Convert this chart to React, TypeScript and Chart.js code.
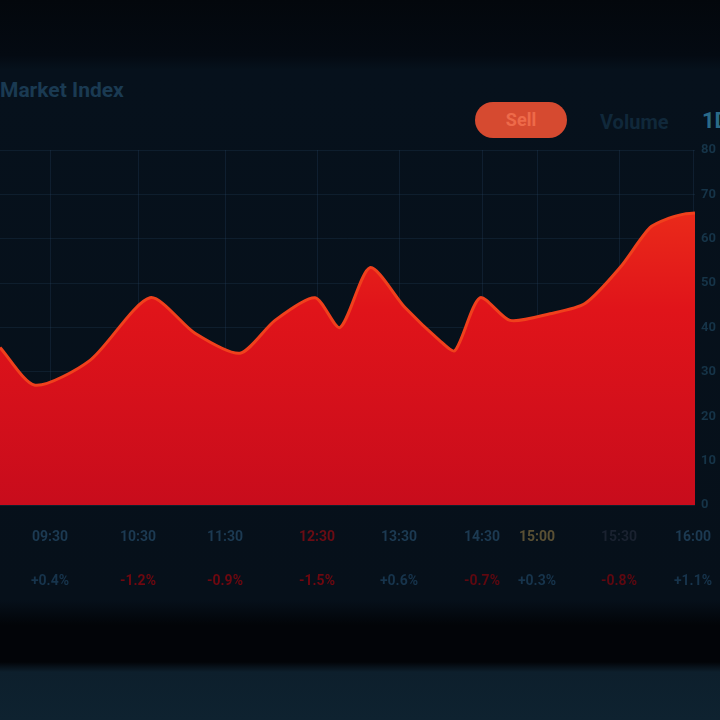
import React, { useEffect, useRef } from "react";
import { Chart, registerables } from "chart.js";

Chart.register(...registerables);

// Series: day index and index value
const days = [0, 7, 18, 30, 39, 48, 55, 63, 68, 74, 81, 88, 91, 96, 102, 110, 117, 124, 130, 134, 137, 139];
const values = [35.5, 27, 32.6, 46.7, 38.7, 34.2, 41.6, 46.7, 40, 53.5, 44.5, 37, 34.8, 46.7, 41.6, 43.1, 45.4, 53.5, 62.5, 64.7, 65.6, 65.8];

// Tick rows below the chart
const tickDays = [10, 27.6, 45, 63.4, 79.8, 96.4, 107.4, 123.8, 138.6];
const timeLabels = ["09:30", "10:30", "11:30", "12:30", "13:30", "14:30", "15:00", "15:30", "16:00"];
const timeColors = ["#1c3a52", "#1c3a52", "#1c3a52", "#6a0c14", "#1c3a52", "#1c3a52", "#5a5034", "#1a2230", "#1c3a52"];
const changeLabels = ["+0.4%", "-1.2%", "-0.9%", "-1.5%", "+0.6%", "-0.7%", "+0.3%", "-0.8%", "+1.1%"];
const changeColors = ["#17344c", "#6e0810", "#6e0810", "#6e0810", "#17344c", "#5e0810", "#17344c", "#5e0810", "#17344c"];

const title = "Market Index";
const legendLabels = ["Sell", "Volume", "1D"];

export default function App() {
  const ref = useRef<HTMLCanvasElement | null>(null);

  useEffect(() => {
    document.body.style.margin = "0";
    const canvas = ref.current!;
    const ctx = canvas.getContext("2d")!;
    const noPad = (axis: any, h: number) => {
      axis.height = h;
      axis.paddingLeft = 0;
      axis.paddingRight = 0;
    };
    const chart = new Chart(ctx, {
      type: "line",
      data: {
        datasets: [
          {
            data: days.map((d, i) => ({ x: d, y: values[i] })),
            borderColor: "#f0401c",
            borderWidth: 3,
            pointRadius: 0,
            tension: 0.25,
            fill: "origin",
            backgroundColor: (c: any) => {
              const area = c.chart.chartArea;
              if (!area) return "#d8101a";
              const g = c.chart.ctx.createLinearGradient(0, area.top, 0, area.bottom);
              g.addColorStop(0, "#f0381a");
              g.addColorStop(0.45, "#e0141a");
              g.addColorStop(1, "#c80c1c");
              return g;
            },
          },
        ],
      },
      options: {
        responsive: false,
        animation: false,
        layout: { padding: { top: 150, bottom: 120, left: 0, right: 0 } },
        plugins: { legend: { display: false }, tooltip: { enabled: false }, title: { display: false } },
        scales: {
          x: {
            type: "linear",
            min: 0,
            max: 139,
            position: "bottom",
            afterBuildTicks: (axis: any) => {
              axis.ticks = tickDays.map((v) => ({ value: v }));
            },
            afterFit: (axis: any) => noPad(axis, 50),
            grid: { color: "rgba(40,70,100,0.28)", drawTicks: false },
            border: { display: false },
            ticks: {
              padding: 24,
              autoSkip: false,
              maxRotation: 0,
              font: { family: "Roboto", size: 14, weight: "bold" },
              color: (c: any) => timeColors[c.index] || "#1c3a52",
              callback: (_v: any, i: number) => timeLabels[i],
            },
          },
          x2: {
            type: "linear",
            min: 0,
            max: 139,
            position: "bottom",
            afterBuildTicks: (axis: any) => {
              axis.ticks = tickDays.map((v) => ({ value: v }));
            },
            afterFit: (axis: any) => noPad(axis, 45),
            grid: { display: false, drawTicks: false },
            border: { display: false },
            ticks: {
              padding: 18,
              autoSkip: false,
              maxRotation: 0,
              font: { family: "Roboto", size: 14, weight: "bold" },
              color: (c: any) => changeColors[c.index] || "#17344c",
              callback: (_v: any, i: number) => changeLabels[i],
            },
          },
          y: {
            position: "right",
            min: 0,
            max: 80,
            afterFit: (axis: any) => {
              axis.width = 25;
              axis.paddingTop = 0;
              axis.paddingBottom = 0;
            },
            grid: { color: "rgba(40,70,100,0.25)", drawTicks: false },
            border: { display: false },
            ticks: {
              stepSize: 10,
              padding: 6,
              font: { family: "Roboto", size: 13, weight: "bold" },
              color: "#163448",
            },
          },
        },
      },
    });
    return () => chart.destroy();
  }, []);

  return (
    <div
      style={{
        position: "relative",
        width: 720,
        height: 720,
        overflow: "hidden",
        background:
          "linear-gradient(180deg, #03070c 0px, #040a12 55px, #06111c 70px, #06101a 600px, #020408 625px, #020408 662px, #0d1f2c 672px, #0e2230 720px)",
        fontFamily: "Roboto, sans-serif",
      }}
    >
      <div
        style={{
          position: "absolute",
          left: 0,
          top: 78,
          fontSize: 21,
          fontWeight: 700,
          color: "#1a3a52",
          whiteSpace: "nowrap",
        }}
      >
        {title}
      </div>
      <div
        style={{
          position: "absolute",
          left: 475,
          top: 102,
          width: 92,
          height: 36,
          borderRadius: 18,
          background: "#d64a30",
          color: "#ee6a4a",
          fontSize: 18,
          fontWeight: 700,
          lineHeight: "36px",
          textAlign: "center",
        }}
      >
        {legendLabels[0]}
      </div>
      <div
        style={{
          position: "absolute",
          left: 600,
          top: 110,
          fontSize: 20,
          fontWeight: 700,
          color: "#10283a",
        }}
      >
        {legendLabels[1]}
      </div>
      <div
        style={{
          position: "absolute",
          left: 702,
          top: 108,
          fontSize: 22,
          fontWeight: 700,
          color: "#2a6a88",
        }}
      >
        {legendLabels[2]}
      </div>
      <canvas ref={ref} width={720} height={720} style={{ position: "absolute", left: 0, top: 0 }} />
    </div>
  );
}
